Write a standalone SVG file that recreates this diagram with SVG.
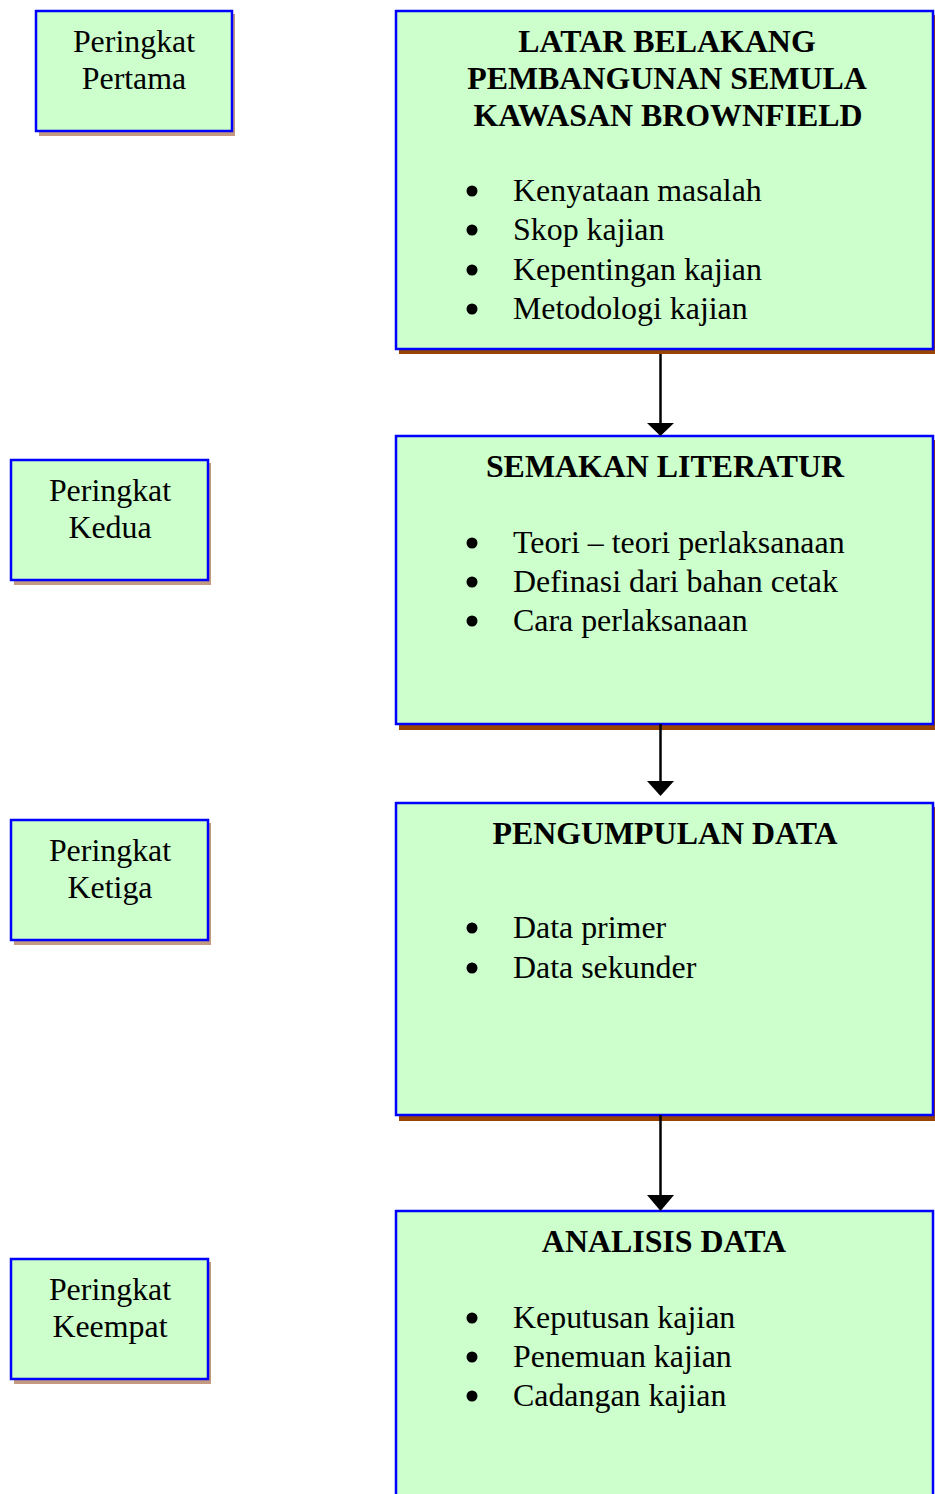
<svg xmlns="http://www.w3.org/2000/svg" width="935" height="1494" viewBox="0 0 935 1494">
<style>
.box{fill:#ccffcc;stroke:#0000ff;stroke-width:2.5}
.shR{fill:#994400}
.shL{fill:#c49a80}
.t{font-family:"Liberation Serif","Times New Roman",serif;font-size:31.9px;fill:#000}
.h{font-weight:bold;text-anchor:middle}
.c{text-anchor:middle}
.b{fill:#000}
.ln{stroke:#000;stroke-width:2.5;fill:none}
.ah{fill:#000}
</style>
<rect x="0" y="0" width="935" height="1494" fill="#fff"/>
<g id="left1">
<rect class="shL" x="39" y="14" width="196" height="122"/>
<rect class="box" x="36" y="11" width="196" height="120"/>
<text class="t c" x="134" y="52">Peringkat</text>
<text class="t c" x="134" y="89">Pertama</text>
</g>
<g id="left2">
<rect class="shL" x="14" y="463" width="197" height="122"/>
<rect class="box" x="11" y="460" width="197" height="120"/>
<text class="t c" x="110" y="501">Peringkat</text>
<text class="t c" x="110" y="538">Kedua</text>
</g>
<g id="left3">
<rect class="shL" x="14" y="823" width="197" height="122"/>
<rect class="box" x="11" y="820" width="197" height="120"/>
<text class="t c" x="110" y="861">Peringkat</text>
<text class="t c" x="110" y="898">Ketiga</text>
</g>
<g id="left4">
<rect class="shL" x="14" y="1262" width="197" height="122"/>
<rect class="box" x="11" y="1259" width="197" height="120"/>
<text class="t c" x="110" y="1300">Peringkat</text>
<text class="t c" x="110" y="1337">Keempat</text>
</g>
<g id="box1">
<rect class="shR" x="399" y="15" width="540" height="339"/>
<rect class="box" x="396" y="11" width="537" height="338"/>
<text class="t h" x="667" y="52">LATAR BELAKANG</text>
<text class="t h" x="667" y="89">PEMBANGUNAN SEMULA</text>
<text class="t h" x="668" y="126">KAWASAN BROWNFIELD</text>
<circle class="b" cx="472" cy="191" r="5.5"/>
<circle class="b" cx="472" cy="230" r="5.5"/>
<circle class="b" cx="472" cy="270" r="5.5"/>
<circle class="b" cx="472" cy="309" r="5.5"/>
<text class="t" x="513" y="201">Kenyataan masalah</text>
<text class="t" x="513" y="240">Skop kajian</text>
<text class="t" x="513" y="280">Kepentingan kajian</text>
<text class="t" x="513" y="319">Metodologi kajian</text>
</g>
<g id="box2">
<rect class="shR" x="399" y="440" width="540" height="290"/>
<rect class="box" x="396" y="436" width="537" height="288"/>
<text class="t h" x="665" y="477">SEMAKAN LITERATUR</text>
<circle class="b" cx="472" cy="543" r="5.5"/>
<circle class="b" cx="472" cy="582" r="5.5"/>
<circle class="b" cx="472" cy="621" r="5.5"/>
<text class="t" x="513" y="553">Teori – teori perlaksanaan</text>
<text class="t" x="513" y="592">Definasi dari bahan cetak</text>
<text class="t" x="513" y="631">Cara perlaksanaan</text>
</g>
<g id="box3">
<rect class="shR" x="399" y="807" width="540" height="314"/>
<rect class="box" x="396" y="803" width="537" height="312"/>
<text class="t h" x="665" y="844">PENGUMPULAN DATA</text>
<circle class="b" cx="472" cy="928" r="5.5"/>
<circle class="b" cx="472" cy="968" r="5.5"/>
<text class="t" x="513" y="938">Data primer</text>
<text class="t" x="513" y="978">Data sekunder</text>
</g>
<g id="box4">
<rect class="box" x="396" y="1211" width="537" height="300"/>
<text class="t h" x="664" y="1252">ANALISIS DATA</text>
<circle class="b" cx="472" cy="1318" r="5.5"/>
<circle class="b" cx="472" cy="1357" r="5.5"/>
<circle class="b" cx="472" cy="1396" r="5.5"/>
<text class="t" x="513" y="1328">Keputusan kajian</text>
<text class="t" x="513" y="1367">Penemuan kajian</text>
<text class="t" x="513" y="1406">Cadangan kajian</text>
</g>
<g id="connectors">
<line class="ln" x1="660.5" y1="354" x2="660.5" y2="424"/>
<polygon class="ah" points="647,423 674,423 660.5,436"/>
<line class="ln" x1="660.5" y1="724" x2="660.5" y2="782"/>
<polygon class="ah" points="647,781 674,781 660.5,796"/>
<line class="ln" x1="660.5" y1="1115" x2="660.5" y2="1196"/>
<polygon class="ah" points="647,1195 674,1195 660.5,1211"/>
</g>
</svg>
